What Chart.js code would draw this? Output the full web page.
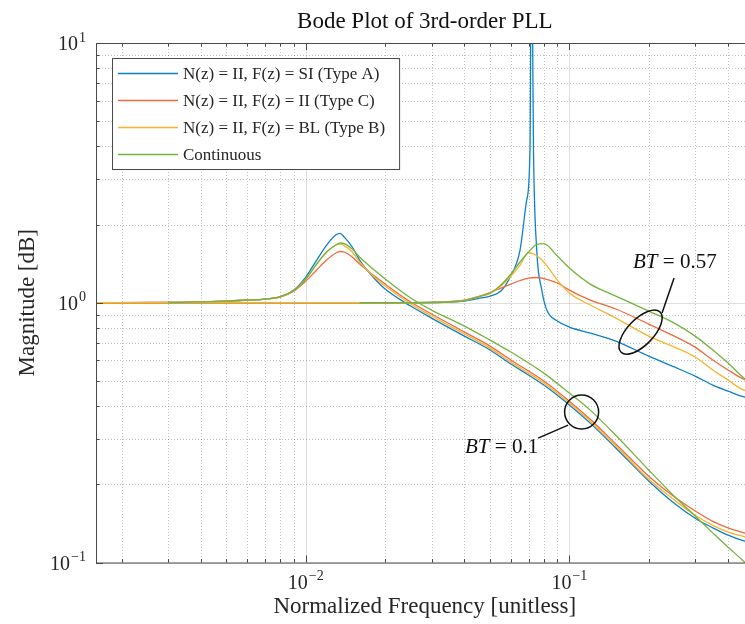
<!DOCTYPE html>
<html>
<head>
<meta charset="utf-8">
<script src="https://cdn.jsdelivr.net/npm/chart.js@4.4.1/dist/chart.umd.min.js"></script>
<style>
  html, body { margin: 0; padding: 0; background: #fff; overflow: hidden; }
  #wrap { position: relative; width: 770px; height: 624px; }
</style>
</head>
<body>
<div id="wrap"><canvas id="bode"></canvas></div>
<script>
// normalized frequency grids
const freqBT01 = [0.0016, 0.003, 0.005, 0.006, 0.007, 0.008, 0.009, 0.01, 0.011, 0.012, 0.013, 0.0135, 0.014, 0.015, 0.016, 0.018, 0.02, 0.025, 0.03, 0.04, 0.05, 0.06, 0.07, 0.08, 0.1, 0.12, 0.15, 0.2, 0.25, 0.3, 0.35, 0.4, 0.45, 0.5];
const freqBT057 = [0.0016, 0.016, 0.02, 0.03, 0.04, 0.045, 0.05, 0.055, 0.06, 0.065, 0.07, 0.075, 0.08, 0.09, 0.1, 0.12, 0.15, 0.2, 0.25, 0.3, 0.35, 0.4, 0.45, 0.5];
const freqTypeA_BT057 = [0.0016, 0.016, 0.02, 0.03, 0.04, 0.045, 0.05, 0.055, 0.0596, 0.065, 0.0689, 0.0709, 0.0718, 0.0731, 0.0752, 0.0786, 0.0821, 0.09, 0.1, 0.12, 0.15, 0.2, 0.25, 0.3, 0.35, 0.4, 0.45, 0.5];

// magnitudes, BT = 0.1
const typeA_BT01 = [1.0, 1.002, 1.015, 1.024, 1.033, 1.056, 1.119, 1.256, 1.460, 1.668, 1.823, 1.848, 1.790, 1.639, 1.460, 1.256, 1.129, 0.971, 0.873, 0.744, 0.658, 0.581, 0.527, 0.482, 0.404, 0.344, 0.276, 0.206, 0.169, 0.148, 0.136, 0.1275, 0.122, 0.119];
const typeC_BT01 = [1.0, 1.002, 1.015, 1.024, 1.033, 1.052, 1.109, 1.212, 1.337, 1.460, 1.554, 1.575, 1.568, 1.499, 1.409, 1.278, 1.180, 1.006, 0.905, 0.771, 0.681, 0.602, 0.546, 0.500, 0.418, 0.356, 0.286, 0.215, 0.179, 0.158, 0.144, 0.136, 0.131, 0.1275];
const typeB_BT01 = [1.0, 1.002, 1.015, 1.024, 1.033, 1.056, 1.114, 1.234, 1.409, 1.568, 1.668, 1.683, 1.660, 1.568, 1.435, 1.267, 1.160, 0.989, 0.889, 0.758, 0.669, 0.591, 0.536, 0.491, 0.411, 0.350, 0.281, 0.209, 0.174, 0.152, 0.139, 0.131, 0.1265, 0.123];
const cont_BT01 = [null, 1.002, 1.015, 1.024, 1.033, 1.056, 1.114, 1.234, 1.409, 1.568, 1.668, 1.698, 1.690, 1.610, 1.500, 1.348, 1.234, 1.043, 0.937, 0.813, 0.718, 0.646, 0.586, 0.536, 0.449, 0.386, 0.309, 0.227, 0.180, 0.151, 0.130, 0.1145, 0.103, 0.093];

// magnitudes, BT = 0.57
const typeA_BT057 = [1.0, 1.0, 1.0, 1.002, 1.015, 1.038, 1.061, 1.109, 1.256, 1.596, 2.487, 3.873, 30.0, 3.873, 1.596, 1.119, 0.937, 0.850, 0.806, 0.764, 0.712, 0.623, 0.566, 0.522, 0.482, 0.457, 0.437, 0.426];
const typeC_BT057 = [1.0, 1.0, 1.0, 1.004, 1.024, 1.056, 1.095, 1.139, 1.180, 1.218, 1.245, 1.251, 1.239, 1.191, 1.119, 1.024, 0.946, 0.828, 0.744, 0.675, 0.602, 0.551, 0.513, 0.491];
const typeB_BT057 = [1.0, 1.0, 1.0, 1.002, 1.020, 1.052, 1.085, 1.160, 1.267, 1.397, 1.56, 1.52, 1.435, 1.223, 1.090, 0.980, 0.873, 0.744, 0.675, 0.618, 0.551, 0.504, 0.465, 0.449];
const cont_BT057 = [null, 1.0, 1.0, 1.002, 1.020, 1.052, 1.090, 1.170, 1.290, 1.435, 1.568, 1.675, 1.690, 1.513, 1.360, 1.180, 1.061, 0.929, 0.835, 0.744, 0.658, 0.586, 0.522, 0.478];

const seriesLabels = [
  'N(z) = II, F(z) = SI (Type A)',
  'N(z) = II, F(z) = II (Type C)',
  'N(z) = II, F(z) = BL (Type B)',
  'Continuous'
];
const seriesColors = ['#0b80cc', '#ef6a3d', '#f6b52c', '#74b33f'];

const xLabelTicks = [0.01, 0.1];
const yLabelTicks = [0.1, 1, 10];
const xRange = [0.0016, 0.5];
const yRange = [0.1, 10];

const FONT = "'Liberation Serif', 'Times New Roman', serif";
const INK = '#262626';

function points(freqs, mags) {
  return freqs.map((f, i) => ({ x: f, y: mags[i] }));
}

const curves = [
  { s: 0, f: freqBT01, m: typeA_BT01 },
  { s: 0, f: freqTypeA_BT057, m: typeA_BT057 },
  { s: 1, f: freqBT01, m: typeC_BT01 },
  { s: 1, f: freqBT057, m: typeC_BT057 },
  { s: 2, f: freqBT01, m: typeB_BT01 },
  { s: 2, f: freqBT057, m: typeB_BT057 },
  { s: 3, f: freqBT01, m: cont_BT01 },
  { s: 3, f: freqBT057, m: cont_BT057 }
];

// minor/major positions of a log axis
function logTicks(min, max) {
  const out = [];
  for (let d = Math.floor(Math.log10(min)); d <= Math.ceil(Math.log10(max)); d++) {
    for (let k = 1; k <= 9; k++) {
      const v = k * Math.pow(10, d);
      if (v >= min * 0.9999 && v <= max * 1.0001) out.push({ v: v, major: k === 1 });
    }
  }
  return out;
}

const gridPlugin = {
  id: 'matlabGrid',
  beforeDatasetsDraw(chart) {
    const { ctx, chartArea: a, scales: { x, y } } = chart;
    ctx.save();
    ctx.lineWidth = 1;
    logTicks(x.min, x.max).forEach(t => {
      const px = Math.round(x.getPixelForValue(t.v)) + 0.5;
      ctx.strokeStyle = t.major ? 'rgba(0,0,0,0.13)' : 'rgba(0,0,0,0.24)';
      ctx.setLineDash(t.major ? [] : [1, 2]);
      ctx.beginPath(); ctx.moveTo(px, a.top); ctx.lineTo(px, a.bottom); ctx.stroke();
    });
    logTicks(y.min, y.max).forEach(t => {
      const py = Math.round(y.getPixelForValue(t.v)) + 0.5;
      ctx.strokeStyle = t.major ? 'rgba(0,0,0,0.13)' : 'rgba(0,0,0,0.24)';
      ctx.setLineDash(t.major ? [] : [1, 2]);
      ctx.beginPath(); ctx.moveTo(a.left, py); ctx.lineTo(a.right, py); ctx.stroke();
    });
    ctx.restore();
  }
};

function expText(v) {
  const e = Math.round(Math.log10(v));
  return e < 0 ? '\u2212' + (-e) : String(e);
}

const axesPlugin = {
  id: 'matlabAxes',
  afterDatasetsDraw(chart) {
    const { ctx, chartArea: a, scales: { x, y } } = chart;
    ctx.save();
    // box
    ctx.strokeStyle = '#4a4a4a';
    ctx.lineWidth = 1;
    ctx.beginPath();
    ctx.moveTo(a.left + 0.5, a.bottom + 0.5); ctx.lineTo(a.left + 0.5, a.top + 0.5); ctx.lineTo(a.right, a.top + 0.5);
    ctx.moveTo(a.left + 0.5, a.bottom + 0.5); ctx.lineTo(a.right, a.bottom + 0.5);
    ctx.stroke();
    // inward ticks
    ctx.beginPath();
    logTicks(x.min, x.max).forEach(t => {
      const px = Math.round(x.getPixelForValue(t.v)) + 0.5;
      const len = t.major ? 7 : 3.5;
      ctx.moveTo(px, a.bottom); ctx.lineTo(px, a.bottom - len);
      ctx.moveTo(px, a.top); ctx.lineTo(px, a.top + len);
    });
    logTicks(y.min, y.max).forEach(t => {
      const py = Math.round(y.getPixelForValue(t.v)) + 0.5;
      const len = t.major ? 7 : 3.5;
      ctx.moveTo(a.left, py); ctx.lineTo(a.left + len, py);
    });
    ctx.stroke();

    // tick labels 10^n
    ctx.fillStyle = INK;
    ctx.textBaseline = 'alphabetic';
    ctx.textAlign = 'left';
    xLabelTicks.forEach(v => {
      const px = x.getPixelForValue(v);
      ctx.font = '20px ' + FONT;
      const wb = ctx.measureText('10').width;
      ctx.font = '14px ' + FONT;
      const we = ctx.measureText(expText(v)).width;
      const x0 = px - (wb + we + 1) / 2;
      ctx.font = '20px ' + FONT;
      ctx.fillText('10', x0, a.bottom + 26.5);
      ctx.font = '14px ' + FONT;
      ctx.fillText(expText(v), x0 + wb + 1, a.bottom + 17.5);
    });
    yLabelTicks.forEach(v => {
      const py = y.getPixelForValue(v);
      ctx.font = '14px ' + FONT;
      const we = ctx.measureText(expText(v)).width;
      ctx.font = '20px ' + FONT;
      const wb = ctx.measureText('10').width;
      const right = a.left - 10;
      ctx.fillText('10', right - we - 1 - wb, py + 7);
      ctx.font = '14px ' + FONT;
      ctx.fillText(expText(v), right - we, py - 1.5);
    });

    // axis titles and chart title
    ctx.font = '23px ' + FONT;
    ctx.textAlign = 'center';
    const cx = (a.left + a.right) / 2;
    ctx.fillStyle = '#111';
    ctx.fillText('Bode Plot of 3rd-order PLL', cx, 28);
    ctx.fillStyle = INK;
    ctx.fillText('Normalized Frequency [unitless]', cx, 613);
    ctx.save();
    ctx.translate(34, (a.top + a.bottom) / 2);
    ctx.rotate(-Math.PI / 2);
    ctx.fillText('Magnitude [dB]', 0, 0);
    ctx.restore();
    ctx.restore();
  }
};

// BT annotations, anchored in data units
const bt057Mark = { cx: 0.1863, cy: 0.771, rx: 28, ry: 13, rot: -46, lead: [[0.2247, 0.913], [0.2496, 1.245]], text: [0.1744, 1.36], value: '0.57' };
const bt01Mark = { cx: 0.1113, cy: 0.3795, r: 17, lead: [[0.0989, 0.338], [0.0761, 0.3013]], text: [0.0402, 0.2638], value: '0.1' };

function drawBT(ctx, x, y, mark) {
  const tx = x.getPixelForValue(mark.text[0]);
  const ty = y.getPixelForValue(mark.text[1]);
  ctx.font = 'italic 21px ' + FONT;
  ctx.textAlign = 'left';
  ctx.fillText('BT', tx, ty);
  const w = ctx.measureText('BT').width;
  ctx.font = '21px ' + FONT;
  ctx.fillText(' = ' + mark.value, tx + w, ty);
  ctx.beginPath();
  ctx.moveTo(x.getPixelForValue(mark.lead[0][0]), y.getPixelForValue(mark.lead[0][1]));
  ctx.lineTo(x.getPixelForValue(mark.lead[1][0]), y.getPixelForValue(mark.lead[1][1]));
  ctx.stroke();
}

const annotationPlugin = {
  id: 'btMarks',
  afterDraw(chart) {
    const { ctx, scales: { x, y } } = chart;
    ctx.save();
    ctx.strokeStyle = '#111';
    ctx.fillStyle = '#111';
    ctx.lineWidth = 1.5;
    ctx.beginPath();
    ctx.ellipse(x.getPixelForValue(bt057Mark.cx), y.getPixelForValue(bt057Mark.cy), bt057Mark.rx, bt057Mark.ry, bt057Mark.rot * Math.PI / 180, 0, Math.PI * 2);
    ctx.stroke();
    ctx.beginPath();
    ctx.arc(x.getPixelForValue(bt01Mark.cx), y.getPixelForValue(bt01Mark.cy), bt01Mark.r, 0, Math.PI * 2);
    ctx.stroke();
    drawBT(ctx, x, y, bt057Mark);
    drawBT(ctx, x, y, bt01Mark);
    ctx.restore();
  }
};

const legendPlugin = {
  id: 'boxLegend',
  afterDraw(chart) {
    const { ctx } = chart;
    const seen = [];
    chart.data.datasets.forEach(ds => {
      if (!seen.find(s => s.label === ds.label)) seen.push({ label: ds.label, color: ds.borderColor });
    });
    ctx.save();
    ctx.font = '17px ' + FONT;
    const left = 112, top = 58, rowH = 27, textX = 183;
    const maxW = Math.max(...seen.map(s => ctx.measureText(s.label).width));
    const right = textX + maxW + 14;
    const bottom = top + 15 + rowH * seen.length - 12;
    ctx.fillStyle = '#fff';
    ctx.fillRect(left, top, right - left, bottom - top);
    ctx.strokeStyle = '#4a4a4a';
    ctx.lineWidth = 1;
    ctx.strokeRect(left + 0.5, top + 0.5, right - left, bottom - top);
    seen.forEach((s, i) => {
      const ry = top + 15.5 + i * rowH;
      ctx.strokeStyle = s.color;
      ctx.lineWidth = 1.4;
      ctx.beginPath(); ctx.moveTo(118, ry); ctx.lineTo(178, ry); ctx.stroke();
      ctx.fillStyle = INK;
      ctx.textBaseline = 'middle';
      ctx.fillText(s.label, textX, ry + 1);
    });
    ctx.restore();
  }
};

new Chart(document.getElementById('bode'), {
  type: 'line',
  data: {
    datasets: curves.map(c => ({
      label: seriesLabels[c.s],
      data: points(c.f, c.m),
      borderColor: seriesColors[c.s],
      borderWidth: 1.3,
      pointRadius: 0,
      fill: false,
      cubicInterpolationMode: 'monotone',
      order: 4 - c.s
    }))
  },
  options: {
    responsive: true,
    maintainAspectRatio: false,
    animation: false,
    devicePixelRatio: 1,
    layout: { padding: { left: 96, top: 43, right: 16.4, bottom: 61.5 } },
    scales: {
      x: { type: 'logarithmic', min: xRange[0], max: xRange[1], display: false },
      y: { type: 'logarithmic', min: yRange[0], max: yRange[1], display: false }
    },
    plugins: { legend: { display: false }, tooltip: { enabled: false } }
  },
  plugins: [gridPlugin, axesPlugin, annotationPlugin, legendPlugin]
});
</script>
</body>
</html>
